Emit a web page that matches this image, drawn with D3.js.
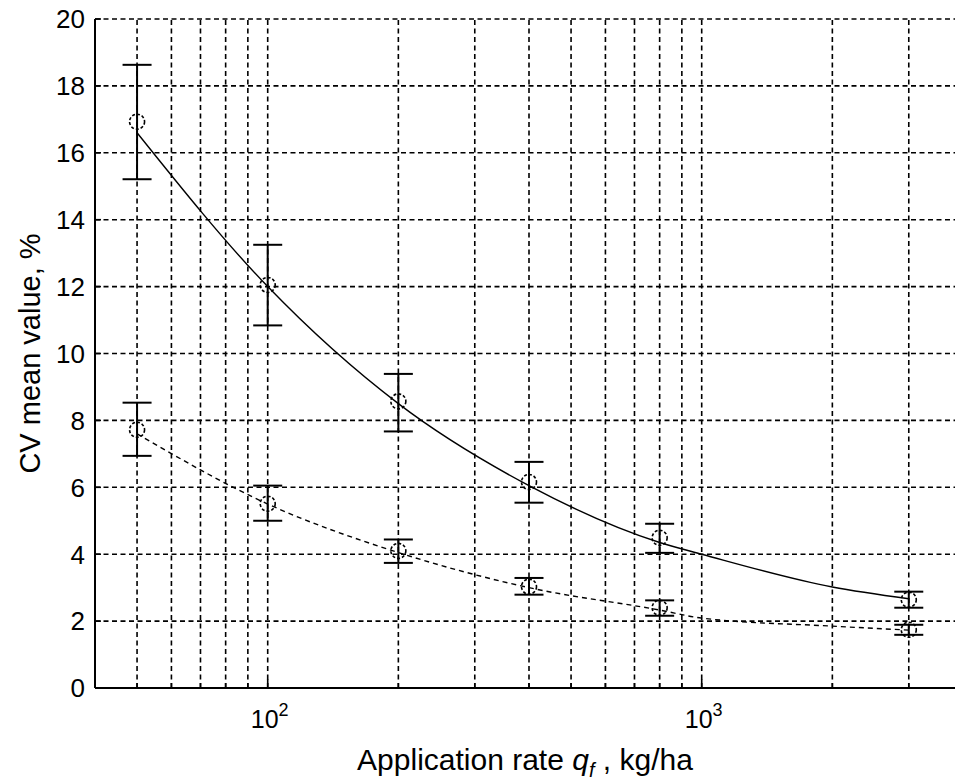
<!DOCTYPE html>
<html>
<head>
<meta charset="utf-8">
<script src="https://cdn.jsdelivr.net/npm/d3@7"></script>
<style>
  body { margin: 0; background: #fff; }
  text { font-family: "Liberation Sans", Arial, sans-serif; fill: #000; }
</style>
</head>
<body>
<div id="chart"></div>
<script>

// Chart data
const rates = [50, 100, 200, 400, 800, 3000];

// solid series
const meanA = [16.93, 12.05, 8.57, 6.16, 4.49, 2.64];
const lowA  = [15.21, 10.84, 7.67, 5.54, 4.04, 2.40];
const highA = [18.63, 13.25, 9.39, 6.76, 4.91, 2.88];

// dashed series
const meanB = [7.72, 5.51, 4.10, 3.03, 2.40, 1.74];
const lowB  = [6.94, 5.00, 3.74, 2.79, 2.16, 1.59];
const highB = [8.53, 6.05, 4.44, 3.29, 2.62, 1.89];

// fitted curves
const fitX = [50, 100, 200, 400, 800, 1000, 2000, 3000];
const fitA = [16.6, 12.0, 8.5, 6.05, 4.35, 4.0, 3.02, 2.67];
const fitB = [7.6, 5.5, 4.05, 3.0, 2.33, 2.09, 1.85, 1.73];

const yTicks = [0, 2, 4, 6, 8, 10, 12, 14, 16, 18, 20];
const xMajor = [100, 1000];
const xGrid = [50, 60, 70, 80, 90, 100, 200, 300, 400, 500, 600, 700, 800, 900, 1000, 2000, 3000];

// Set dimensions and margins
const width = 955;
const height = 783;
const margin = {left: 95, right: -8, top: 19, bottom: 95};

const svg = d3.select("#chart")
  .append("svg")
  .attr("width", width)
  .attr("height", height);

// Scales
const xScale = d3.scaleLog()
  .domain([40, 4000])
  .range([margin.left, width - margin.right]);

const yScale = d3.scaleLinear()
  .domain([0, 20])
  .range([height - margin.bottom, margin.top]);

const x0 = margin.left, x1 = width - margin.right;
const y0 = height - margin.bottom, y1 = margin.top;

// Grid lines
const grid = svg.append("g")
  .attr("stroke", "#000")
  .attr("stroke-width", 1.6)
  .attr("stroke-dasharray", "5,3.5");

grid.selectAll(".hgrid")
  .data(yTicks.filter(d => d > 0))
  .enter()
  .append("line")
    .attr("x1", x0).attr("x2", x1)
    .attr("y1", d => yScale(d)).attr("y2", d => yScale(d));

grid.selectAll(".vgrid")
  .data(xGrid)
  .enter()
  .append("line")
    .attr("x1", d => xScale(d)).attr("x2", d => xScale(d))
    .attr("y1", y0).attr("y2", y1);

// Axes lines
svg.append("line")
  .attr("x1", x0).attr("x2", x0).attr("y1", y0).attr("y2", y1)
  .attr("stroke", "#000").attr("stroke-width", 2);
svg.append("line")
  .attr("x1", x0).attr("x2", x1).attr("y1", y0).attr("y2", y0)
  .attr("stroke", "#000").attr("stroke-width", 2);

// Y ticks + labels
svg.selectAll(".ytick")
  .data(yTicks)
  .enter()
  .append("line")
    .attr("x1", x0).attr("x2", x0 + 6)
    .attr("y1", d => yScale(d)).attr("y2", d => yScale(d))
    .attr("stroke", "#000").attr("stroke-width", 1.6);

svg.selectAll(".ylab")
  .data(yTicks)
  .enter()
  .append("text")
    .attr("x", x0 - 10)
    .attr("y", d => yScale(d))
    .attr("dy", "0.36em")
    .attr("text-anchor", "end")
    .attr("font-size", 26)
    .text(d => d);

// X ticks (major long, minor short)
svg.selectAll(".xtick")
  .data(xGrid)
  .enter()
  .append("line")
    .attr("x1", d => xScale(d)).attr("x2", d => xScale(d))
    .attr("y1", y0).attr("y2", d => y0 - (xMajor.includes(d) ? 9 : 5))
    .attr("stroke", "#000").attr("stroke-width", 1.6);

const xlab = svg.selectAll(".xlab")
  .data(xMajor)
  .enter()
  .append("text")
    .attr("x", d => xScale(d) + 2)
    .attr("y", y0 + 40)
    .attr("text-anchor", "middle")
    .attr("font-size", 25);
xlab.append("tspan").text("10");
xlab.append("tspan")
  .attr("dy", -12)
  .attr("font-size", 18)
  .text(d => Math.round(Math.log10(d)));

// Axis titles
const xTitle = svg.append("text")
  .attr("x", (x0 + x1) / 2 - 4)
  .attr("y", 770)
  .attr("text-anchor", "middle")
  .attr("font-size", 30);
xTitle.append("tspan").text("Application rate ");
xTitle.append("tspan").attr("font-style", "italic").text("q");
xTitle.append("tspan").attr("font-style", "italic").attr("font-size", 20).attr("dy", 7).text("f");
xTitle.append("tspan").attr("dy", -7).text(" , kg/ha");

svg.append("text")
  .attr("transform", `translate(40, ${(y0 + y1) / 2}) rotate(-90)`)
  .attr("text-anchor", "middle")
  .attr("font-size", 29)
  .text("CV mean value, %");

// Fitted curves
const fitLine = d3.line()
  .x((d, i) => xScale(fitX[i]))
  .y(d => yScale(d))
  .curve(d3.curveMonotoneX);

svg.append("path")
  .attr("d", fitLine(fitA))
  .attr("fill", "none")
  .attr("stroke", "#000")
  .attr("stroke-width", 1.4);

svg.append("path")
  .attr("d", fitLine(fitB))
  .attr("fill", "none")
  .attr("stroke", "#000")
  .attr("stroke-width", 1.4)
  .attr("stroke-dasharray", "5,4");

// Error bars with circle markers
function drawSeries(means, lows, highs) {
  const g = svg.append("g")
    .attr("stroke", "#000")
    .attr("fill", "none");

  g.selectAll(".stem")
    .data(means)
    .enter()
    .append("line")
      .attr("x1", (d, i) => xScale(rates[i]))
      .attr("x2", (d, i) => xScale(rates[i]))
      .attr("y1", (d, i) => yScale(lows[i]))
      .attr("y2", (d, i) => yScale(highs[i]))
      .attr("stroke-width", 2);

  [lows, highs].forEach(arr => {
    g.selectAll(null)
      .data(arr)
      .enter()
      .append("line")
        .attr("x1", (d, i) => xScale(rates[i]) - 14.5)
        .attr("x2", (d, i) => xScale(rates[i]) + 14.5)
        .attr("y1", d => yScale(d))
        .attr("y2", d => yScale(d))
        .attr("stroke-width", 2);
  });

  g.selectAll(".dot")
    .data(means)
    .enter()
    .append("circle")
      .attr("cx", (d, i) => xScale(rates[i]))
      .attr("cy", d => yScale(d))
      .attr("r", 7.5)
      .attr("stroke-width", 1.6)
      .attr("stroke-dasharray", "3,2");
}

drawSeries(meanA, lowA, highA);
drawSeries(meanB, lowB, highB);

</script>
</body>
</html>
